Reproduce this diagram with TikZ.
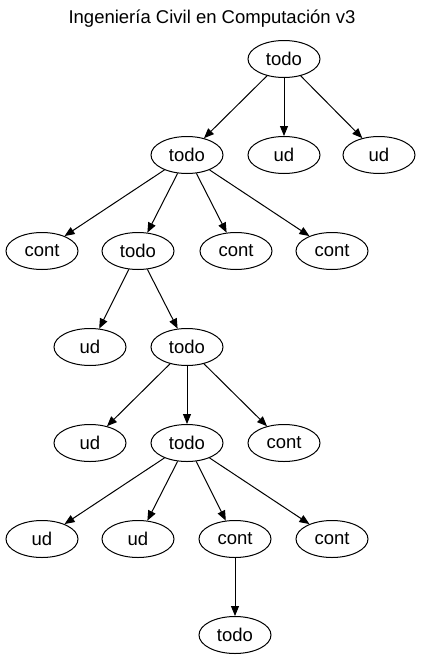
\documentclass[tikz,border=0pt]{standalone}
\usepackage{fontspec}
\setmainfont{Liberation Sans}
\usetikzlibrary{shapes.geometric,arrows.meta}
\begin{document}
\begin{tikzpicture}[x=1pt,y=-1pt,
  nd/.style={draw,ellipse,line width=1pt,minimum width=72pt,minimum height=37pt,inner sep=0pt,font=\fontsize{18.5}{22}\selectfont},
  edge/.style={draw,line width=1pt,-{Triangle[length=10pt,width=8pt]}},
  ttl/.style={font=\fontsize{18.5}{22}\selectfont}]
\useasboundingbox (0,0) rectangle (421,665);
\node[ttl] (title) at (212,19) {Ingeniería Civil en Computación v3};
\node[nd] (r) at (284,59) {todo};
\node[nd] (t1) at (187,155) {todo};
\node[nd] (u1) at (284,155) {ud};
\node[nd] (u2) at (379,155) {ud};
\node[nd] (c1) at (42,251) {cont};
\node[nd] (t2) at (138,251) {todo};
\node[nd] (c2) at (236,251) {cont};
\node[nd] (c3) at (332,251) {cont};
\node[nd] (u3) at (90,347) {ud};
\node[nd] (t3) at (187,347) {todo};
\node[nd] (u4) at (90,443) {ud};
\node[nd] (t4) at (187,443) {todo};
\node[nd] (c4) at (284,443) {cont};
\node[nd] (u5) at (42,539) {ud};
\node[nd] (u6) at (138,539) {ud};
\node[nd] (c5) at (235,539) {cont};
\node[nd] (c6) at (332,539) {cont};
\node[nd] (t5) at (235,635) {todo};
\foreach \a/\b in {r/t1,r/u1,r/u2,t1/c1,t1/t2,t1/c2,t1/c3,t2/u3,t2/t3,t3/u4,t3/t4,t3/c4,t4/u5,t4/u6,t4/c5,t4/c6,c5/t5}
  \path[edge] (\a) -- (\b);
\end{tikzpicture}
\end{document}
